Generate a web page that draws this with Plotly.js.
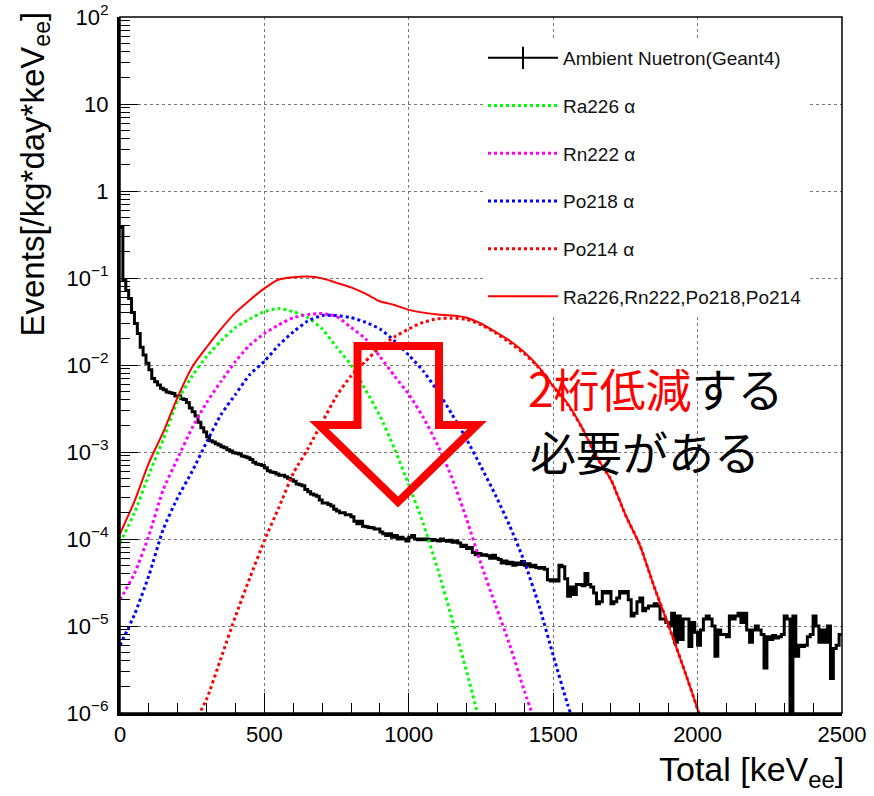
<!DOCTYPE html>
<html><head><meta charset="utf-8">
<script src="https://cdn.plot.ly/plotly-3.0.1.min.js"></script>
<style>html,body{margin:0;padding:0;background:#fff}#chart{width:874px;height:796px}</style>
</head><body><div id="chart"></div>
<script>
// ---------------- data ----------------
const binWidthKeV = 10;           // histogram bin width (keV)
// Ambient neutron (Geant4) histogram, 10 keV bins from 0 to 2500 keV
const neutron = [
 0.38, 0.095, 0.072, 0.058, 0.040, 0.030, 0.023, 0.016, 0.013, 0.0105,
 0.0088, 0.0070, 0.0064, 0.0059, 0.0054, 0.0052, 0.0049, 0.0048, 0.0047, 0.0044,
 0.0044, 0.0041, 0.0040, 0.0037, 0.0032, 0.0029, 0.0026, 0.0022, 0.0019, 0.0017,
 0.0015, 0.00135, 0.0013, 0.00124, 0.0012, 0.00115, 0.00112, 0.00106, 0.00103, 0.00098,
 0.00097, 0.00095, 0.0009, 0.00088, 0.00086, 0.00082, 0.00076, 0.00073, 0.00072, 0.0007,
 0.00066, 0.00061, 0.00059, 0.00058, 0.00056, 0.00054, 0.00054, 0.00052, 0.0005, 0.00048,
 0.00046, 0.00043, 0.00042, 0.00041, 0.00037, 0.00035, 0.00033, 0.00032, 0.00031, 0.00028,
 0.00026, 0.00026, 0.00025, 0.00024, 0.00022, 0.00021, 0.0002, 0.0002, 0.00019, 0.00019,
 0.00018, 0.00016, 0.00015, 0.00016, 0.00014, 0.000138, 0.000136, 0.000135, 0.00013, 0.00013,
 0.00012, 0.000115, 0.00011, 0.000115, 0.000105, 0.00011, 0.0001, 0.000105, 0.0001, 0.000095,
 0.000105, 0.00011, 0.0001, 0.000098, 0.0001, 0.000098, 0.0001, 0.000096, 0.000099, 0.000097,
 0.000095, 0.0001, 0.000096, 0.000094, 0.000097, 0.000092, 0.000095, 0.00009, 0.000082, 0.000085,
 0.000078, 0.00008, 0.00007, 0.000066, 0.000068, 0.000065, 0.000066, 0.000064, 0.00006, 0.000065,
 0.00006, 0.000058, 0.000053, 0.000056, 0.000052, 0.000054, 0.00005, 0.000053, 0.000051, 0.000055,
 0.00005, 0.000052, 0.000048, 0.00005, 0.000047, 0.000046, 0.000047, 0.000045, 0.000034, 0.000033,
 0.000034, 0.000033, 0.00005, 0.000048, 0.000035, 0.000022, 0.000028, 0.000023, 0.00003, 0.00003,
 0.000029, 0.00004, 0.00003, 0.000028, 0.000024, 0.000018, 0.000019, 0.000025, 0.000024, 0.000025,
 0.000018, 0.000019, 0.000021, 0.000025, 0.000024, 0.000025, 0.00002, 0.000013, 0.000014, 0.000019,
 0.000021, 0.000015, 0.000016, 0.000017, 0.000017, 0.000018, 0.000017, 0.000012, 0.000012, 0.000011,
 0.00001, 0.000014, 0.0000065, 0.000013, 0.000007, 0.000012, 0.000012, 0.0000058, 0.000011, 0.0000085,
 0.000006, 0.000009, 0.000012, 0.000013, 0.000012, 0.00001, 0.0000045, 0.000009, 0.000008, 0.000008,
 0.0000075, 0.000013, 0.000012, 0.000013, 0.000014, 0.000011, 0.000014, 0.000009, 0.0000065, 0.000009,
 0.00001, 0.000009, 0.000008, 0.0000033, 0.0000075, 0.000007, 0.0000078, 0.0000073, 0.0000075, 0.000008,
 0.000013, 0.000012, 0.0000005, 0.000013, 0.0000045, 0.000006, 0.0000058, 0.000006, 0.0000075, 0.000008,
 0.000013, 0.00001, 0.0000065, 0.000009, 0.0000065, 0.00001, 0.0000025, 0.0000055, 0.000006, 0.000008
];

// energies (keV) at which the alpha curves were read
const curveKeV = [0,50,100,150,200,250,300,350,400,450,500,550,600,650,700,750,800,850,900,950,
  1000,1050,1100,1150,1200,1250,1300,1350,1400,1450,1500,1550,1600,1650,1700,1750,1800,1850,1900,1950,2000,2050];

const ra226 = [9e-5, 2.0e-4, 5.5e-4, 1.4e-3, 3.9e-3, 7.5e-3, 0.0125, 0.019, 0.027, 0.034,
  0.041, 0.0445, 0.041, 0.035, 0.026, 0.016, 0.010, 0.0052, 0.0026, 0.0011,
  0.00042, 0.00015, 4.5e-5, 1.2e-5, 3e-6, 7e-7,
  null,null,null,null,null,null,null,null,null,null,null,null,null,null,null,null];

const rn222 = [2.0e-5, 4.0e-5, 1.1e-4, 3.7e-4, 8.5e-4, 1.9e-3, 3.7e-3, 6.5e-3, 0.011, 0.017,
  0.023, 0.029, 0.035, 0.038, 0.039, 0.036, 0.027, 0.020, 0.0125, 0.0075,
  0.0046, 0.0025, 0.0012, 0.0005, 0.00017, 5.2e-5, 1.75e-5, 6e-6, 1.8e-6, 6e-7,
  null,null,null,null,null,null,null,null,null,null,null,null];

const po218 = [6.0e-6, 1.35e-5, 3.8e-5, 1.3e-4, 3.0e-4, 6.0e-4, 1.3e-3, 2.7e-3, 4.6e-3, 7.8e-3,
  0.011, 0.017, 0.024, 0.032, 0.037, 0.037, 0.035, 0.031, 0.026, 0.019,
  0.013, 0.0085, 0.005, 0.0027, 0.0014, 6.8e-4, 3.2e-4, 1.4e-4, 5.5e-5, 1.75e-5,
  4.6e-6, 1.25e-6, 4e-7,
  null,null,null,null,null,null,null,null,null];

const po214 = [null,null,null,null,null,
  7e-7, 1.45e-6, 4.3e-6, 1.3e-5, 3.6e-5, 9.6e-5, 2.3e-4, 5.7e-4, 1.08e-3, 2.2e-3,
  4.4e-3, 7.5e-3, 0.011, 0.016, 0.021, 0.026, 0.031, 0.034, 0.0345, 0.0335,
  0.029, 0.0235, 0.018, 0.0135, 0.0093, 0.0057, 0.0035, 0.0019, 0.00088, 0.00048,
  0.00019, 8.5e-5, 2.8e-5, 1.0e-5, 3.4e-6, 1.1e-6, 3e-7];

const sumAlpha = [1.15e-4, 2.7e-4, 7.5e-4, 1.7e-3, 4.3e-3, 9.5e-3, 0.016, 0.026, 0.040, 0.056,
  0.076, 0.096, 0.102, 0.104, 0.099, 0.088, 0.078, 0.066, 0.054, 0.049,
  0.043, 0.040, 0.038, 0.037, 0.035, 0.030, 0.024, 0.019, 0.014, 0.0095,
  0.0057, 0.0036, 0.0019, 0.00088, 0.00048, 0.00019, 8.5e-5, 2.8e-5, 1.0e-5, 3.4e-6, 1.1e-6, 3e-7];

const seriesNames = ['Ambient Nuetron(Geant4)', 'Ra226 α', 'Rn222 α', 'Po218 α', 'Po214 α', 'Ra226,Rn222,Po218,Po214'];
const yTickVals = [1e-6, 1e-5, 1e-4, 1e-3, 1e-2, 1e-1, 1, 10, 100];
const yTickText = ['10<sup>−6</sup>','10<sup>−5</sup>','10<sup>−4</sup>','10<sup>−3</sup>','10<sup>−2</sup>','10<sup>−1</sup>','1','10','10<sup>2</sup>'];

// ---------------- build ----------------
const edges = neutron.map((v, i) => i * binWidthKeV).concat([neutron.length * binWidthKeV]);
const stepY = neutron.concat([neutron[neutron.length - 1]]);

const minorY = [];
for (let e = -6; e < 2; e++) for (let d = 2; d <= 9; d++) minorY.push(d * Math.pow(10, e));

const FONT = 'Liberation Sans, Arial, Helvetica, sans-serif';
const dotted = '3px,3px';

const traces = [
  {x: edges, y: stepY, mode: 'lines', line: {shape: 'hv', color: '#000', width: 3}, showlegend: false, hoverinfo: 'skip'},
  {x: [null], y: [null], name: seriesNames[0], legendgroup: 'g0', mode: 'lines+markers',
   line: {color: '#000', width: 2}, marker: {symbol: 'line-ns', size: 28, line: {color: '#000', width: 2}}},
  {x: curveKeV, y: ra226, name: seriesNames[1], legendgroup: 'g1', mode: 'lines',
   line: {color: '#00ff00', width: 3, dash: dotted, shape: 'spline', smoothing: 0.6}},
  {x: curveKeV, y: rn222, name: seriesNames[2], legendgroup: 'g2', mode: 'lines',
   line: {color: '#ff00ff', width: 3, dash: dotted, shape: 'spline', smoothing: 0.6}},
  {x: curveKeV, y: po218, name: seriesNames[3], legendgroup: 'g3', mode: 'lines',
   line: {color: '#0000ff', width: 3, dash: dotted, shape: 'spline', smoothing: 0.6}},
  {x: curveKeV, y: po214, name: seriesNames[4], legendgroup: 'g4', mode: 'lines',
   line: {color: '#ff0000', width: 3, dash: dotted, shape: 'spline', smoothing: 0.6}},
  {x: curveKeV, y: sumAlpha, name: seriesNames[5], legendgroup: 'g5', mode: 'lines',
   line: {color: '#ff0000', width: 2, shape: 'spline', smoothing: 0.6}}
];

// plot area in pixels: x 120..842, y 17..713
const PX = v => (v - 120) / 722;
const PY = v => 1 - (v - 17) / 696;

const arrowPath = 'M' + PX(357.5) + ',' + PY(346) + ' L' + PX(439) + ',' + PY(346) + ' L' + PX(439) + ',' + PY(425) +
  ' L' + PX(477) + ',' + PY(425) + ' L' + PX(398) + ',' + PY(502) + ' L' + PX(319) + ',' + PY(425) +
  ' L' + PX(357.5) + ',' + PY(425) + ' Z';

const layout = {
  width: 874, height: 796,
  margin: {l: 120, r: 32, t: 17, b: 83},
  paper_bgcolor: '#fff', plot_bgcolor: '#fff',
  font: {family: FONT, color: '#000'},
  showlegend: true,
  legend: {x: PX(483), y: PY(39), xanchor: 'left', yanchor: 'top', bgcolor: '#fff', borderwidth: 0,
    font: {family: FONT, size: 19, color: '#111'}, itemwidth: 70, tracegroupgap: 20, traceorder: 'grouped'},
  xaxis: {range: [0, 2500], tickvals: [0, 500, 1000, 1500, 2000, 2500], ticks: 'inside', ticklen: 20, tickwidth: 1,
    tickcolor: '#000', showline: true, linewidth: 3, linecolor: '#000', zeroline: false,
    showgrid: true, gridcolor: '#777', griddash: 'dot', gridwidth: 1,
    tickfont: {family: FONT, size: 22, color: '#000'},
    minor: {dtick: 100, ticks: 'inside', ticklen: 10, tickwidth: 1, tickcolor: '#000', showgrid: false}},
  yaxis: {type: 'log', range: [-6, 2], tickvals: yTickVals, ticktext: yTickText, ticks: 'inside', ticklen: 18, tickwidth: 1,
    tickcolor: '#000', showline: true, linewidth: 3, linecolor: '#000', zeroline: false,
    showgrid: true, gridcolor: '#777', griddash: 'dot', gridwidth: 1,
    tickfont: {family: FONT, size: 22, color: '#000'}, ticklabelstandoff: 4,
    minor: {tickvals: minorY, ticks: 'inside', ticklen: 10, tickwidth: 1, tickcolor: '#000', showgrid: false}},
  shapes: [
    {type: 'rect', xref: 'paper', yref: 'paper', x0: 0, x1: 1, y0: 0, y1: 1, line: {color: '#000', width: 1.5}, layer: 'above'},
    {type: 'path', xref: 'paper', yref: 'paper', path: arrowPath, line: {color: '#ff0000', width: 8}, fillcolor: 'rgba(0,0,0,0)', layer: 'above'}
  ],
  annotations: [
    {xref: 'paper', yref: 'paper', x: PX(526), y: PY(387), xanchor: 'left', yanchor: 'middle', showarrow: false,
     text: '<span style="color:#ff0000">2桁低減</span>する', font: {family: 'Noto Sans CJK JP', size: 46, color: '#000'}},
    {xref: 'paper', yref: 'paper', x: PX(528), y: PY(450), xanchor: 'left', yanchor: 'middle', showarrow: false,
     text: '必要がある', font: {family: 'Noto Sans CJK JP', size: 46, color: '#000'}},
    {xref: 'paper', yref: 'paper', x: PX(11), y: PY(10), xanchor: 'left', yanchor: 'top', showarrow: false, textangle: -90,
     text: 'Events[/kg*day*keV<sub>ee</sub>]', font: {family: FONT, size: 33, color: '#000'}},
    {xref: 'paper', yref: 'paper', x: PX(846), y: PY(748), xanchor: 'right', yanchor: 'top', showarrow: false,
     text: 'Total [keV<sub>ee</sub>]', font: {family: FONT, size: 34, color: '#000'}}
  ]
};

Plotly.newPlot('chart', traces, layout, {displayModeBar: false, staticPlot: true});
</script>
</body></html>
